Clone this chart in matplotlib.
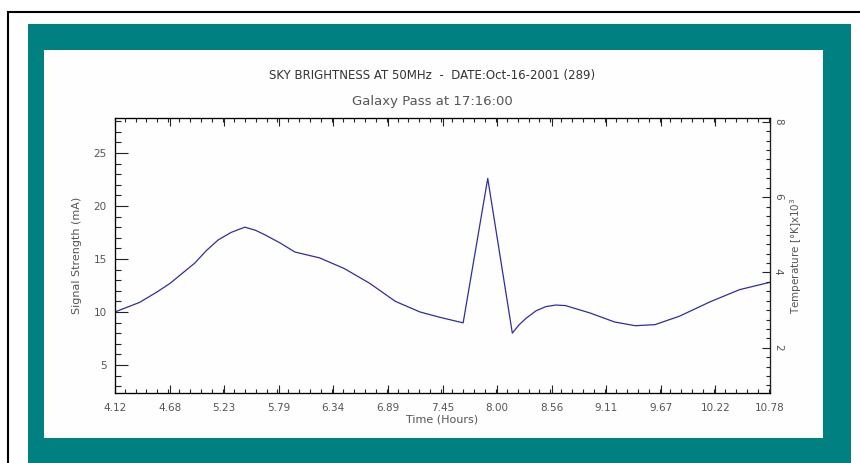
import numpy as np
import matplotlib
matplotlib.use('Agg')
import matplotlib.pyplot as plt
from matplotlib.patches import Rectangle
from matplotlib.ticker import MultipleLocator, FixedLocator

# data
time_hr = [4.12, 4.37, 4.55, 4.68, 4.93, 5.05, 5.17, 5.30, 5.44, 5.55, 5.65, 5.80,
           5.95, 6.20, 6.45, 6.71, 6.97, 7.22, 7.42, 7.66, 7.91, 8.16, 8.23,
           8.30, 8.40, 8.50, 8.60, 8.70, 8.95, 9.20, 9.41, 9.61, 9.86, 10.17,
           10.47, 10.78]
signal_ma = [10.0, 10.9, 11.9, 12.7, 14.6, 15.8, 16.8, 17.5, 18.0, 17.7, 17.25, 16.5,
             15.65, 15.1, 14.1, 12.7, 11.0, 10.0, 9.5, 8.97, 22.6, 8.0, 8.8,
             9.4, 10.1, 10.5, 10.65, 10.6, 9.9, 9.05, 8.7, 8.8, 9.6, 10.95,
             12.1, 12.8]
xtick_vals = [4.12, 4.675, 5.23, 5.785, 6.34, 6.895, 7.45, 8.005, 8.56, 9.115, 9.67, 10.225, 10.78]
xtick_labels = ['4.12', '4.68', '5.23', '5.79', '6.34', '6.89', '7.45', '8.00', '8.56', '9.11', '9.67', '10.22', '10.78']

W, H = 860, 463
fig = plt.figure(figsize=(8.6, 4.63), dpi=100)
fig.patch.set_facecolor('white')

# frame / teal border / white panel (pixel coords, y from top)
def px_rect(x0, y0, x1, y1, **kw):
    fig.patches.append(Rectangle((x0 / W, 1 - y1 / H), (x1 - x0) / W, (y1 - y0) / H,
                                 transform=fig.transFigure, figure=fig, zorder=-10, **kw))

px_rect(8, 12, 870, 480, facecolor='white', edgecolor='black', linewidth=1.5)
px_rect(28, 24, 851, 470, facecolor='#008080', edgecolor='none')
px_rect(44, 50, 823, 438, facecolor='#fefefe', edgecolor='none')

ax = fig.add_axes([115 / W, 1 - 393 / H, (770 - 115) / W, (393 - 118) / H])
ax.set_facecolor('none')
ax.plot(time_hr, signal_ma, color='#2f2f9a', linewidth=0.9)

ax.set_xlim(4.12, 10.78)
ax.set_ylim(2.35, 28.3)
ax.xaxis.set_major_locator(FixedLocator(xtick_vals))
ax.set_xticklabels(xtick_labels)
ax.xaxis.set_minor_locator(MultipleLocator(0.555 / 5))
ax.yaxis.set_major_locator(MultipleLocator(5))
ax.yaxis.set_minor_locator(MultipleLocator(1))
ax.tick_params(which='both', direction='in', top=True, right=False, colors='#222222',
               labelcolor='#555555', labelsize=7.5, width=0.8)
ax.tick_params(axis='x', which='major', length=6, pad=7)
ax.tick_params(axis='x', which='minor', length=3)
ax.tick_params(axis='y', which='major', length=9, pad=6)
ax.tick_params(axis='y', which='minor', length=4.5)
for s in ax.spines.values():
    s.set_color('#222222')
    s.set_linewidth(0.9)

ax.set_xlabel('Time (Hours)', fontsize=8, color='#555555', labelpad=1)
ax.set_ylabel('Signal Strength (mA)', fontsize=8, color='#555555', labelpad=8)

# right axis: temperature
ax2 = ax.twinx()
ax2.set_ylim(0.8, 8.1)
ax2.yaxis.set_major_locator(MultipleLocator(2))
ax2.yaxis.set_minor_locator(MultipleLocator(0.25))
ax2.tick_params(which='both', direction='in', colors='#222222', labelcolor='#555555',
                labelsize=7.5, width=0.8, labelrotation=-90, pad=2)
ax2.tick_params(which='major', length=6)
ax2.tick_params(which='minor', length=3)
ax2.spines['right'].set_color('#222222')
ax2.set_ylabel('Temperature [°K]x10$^3$', fontsize=7.5, color='#555555', rotation=90, labelpad=4)

fig.text(432 / W, 1 - 75 / H, 'SKY BRIGHTNESS AT 50MHz  -  DATE:Oct-16-2001 (289)',
         ha='center', va='center', fontsize=8.5, color='#333333')
fig.text(432 / W, 1 - 102 / H, 'Galaxy Pass at 17:16:00',
         ha='center', va='center', fontsize=9.5, color='#555555')

fig.savefig('out.png', dpi=100)
